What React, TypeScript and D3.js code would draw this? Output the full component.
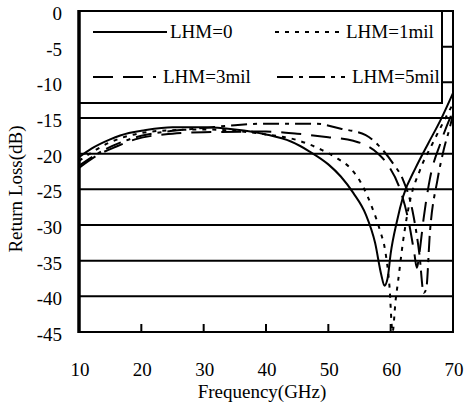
import React, { useEffect, useRef } from 'react'
import * as d3 from 'd3'

const W = 466, H = 402
const margin = { top: 11, right: 13, bottom: 70, left: 79 }

const freqTicks = [10, 20, 30, 40, 50, 60, 70]
const lossTicks = [0, -5, -10, -15, -20, -25, -30, -35, -40, -45]

// [GHz, dB]
const lhm0 = [[10, -20.5], [12, -19.3], [15, -18], [18, -17.1], [20, -16.8], [25, -16.3], [30, -16.3], [35, -16.6], [40, -17.3], [44, -18.3], [47, -19.7], [50, -21.5], [52, -23.2], [54, -25.5], [56, -28.5], [57.5, -32.5], [58.5, -37], [59, -38.5], [59.5, -37.5], [60, -34], [61, -29.5], [62, -26], [64, -22], [66, -18.6], [68, -15.3], [70, -11.5]]
const lhm1 = [[10, -21], [15, -18.4], [20, -17.1], [25, -16.7], [30, -16.6], [35, -16.8], [40, -17.3], [45, -18.1], [49, -19.5], [51.5, -20.7], [53.5, -22], [55.5, -24.5], [57, -27.5], [58.3, -30.8], [59.1, -33.5], [59.8, -38.5], [60.3, -45], [60.8, -40.5], [61.2, -37.8], [62, -32.2], [63, -27], [64.7, -22.3], [66.7, -18.6], [68.5, -15.5], [70, -13]]
const lhm3 = [[10, -22], [13, -20.2], [16, -19], [19, -18], [25, -17.2], [30, -17], [40, -16.9], [45, -17.2], [50, -17.7], [54, -18.2], [56, -18.8], [58, -20], [59.5, -21.5], [61.5, -25], [63, -30], [63.8, -34], [64.2, -36], [64.6, -34], [65.3, -29], [66.3, -23.5], [68, -18.5], [70, -14]]
const lhm5 = [[10, -21.7], [14, -19.5], [20, -17.5], [25, -16.8], [30, -16.4], [35, -16], [40, -15.8], [48, -15.8], [52, -16.5], [56, -17.4], [58, -18.8], [60.4, -21.4], [62, -23.7], [63.5, -28], [64.6, -34], [65.3, -39.5], [65.7, -39], [66.3, -31], [67.5, -23.7], [68.5, -19.5], [69.5, -16.3], [70, -14.5]]

const series = [
  { name: 'LHM=0', data: lhm0, dash: null },
  { name: 'LHM=1mil', data: lhm1, dash: '4,6' },
  { name: 'LHM=3mil', data: lhm3, dash: '20,10' },
  { name: 'LHM=5mil', data: lhm5, dash: '16,6,4,6' },
]

export default function App() {
  const ref = useRef(null)

  useEffect(() => {
    document.body.style.margin = '0'
    const svg = d3.select(ref.current)
    svg.selectAll('*').remove()

    const x = d3.scaleLinear().domain([10, 70]).range([margin.left, W - margin.right])
    const y = d3.scaleLinear().domain([-45, 0]).range([H - margin.bottom, margin.top])
    const font = 'Liberation Serif, DejaVu Serif, serif'

    svg.append('rect').attr('width', W).attr('height', H).attr('fill', '#fff')

    // grid lines
    svg.append('g')
      .selectAll('line')
      .data(lossTicks.filter(d => d !== 0 && d !== -45))
      .join('line')
      .attr('x1', x(10)).attr('x2', x(70))
      .attr('y1', d => y(d)).attr('y2', d => y(d))
      .attr('stroke', '#000').attr('stroke-width', 2)

    svg.append('defs').append('clipPath').attr('id', 'plot')
      .append('rect')
      .attr('x', x(10)).attr('y', y(0))
      .attr('width', x(70) - x(10)).attr('height', y(-45) - y(0))

    const line = d3.line()
      .x(d => x(d[0]))
      .y(d => y(d[1]))
      .curve(d3.curveMonotoneX)

    svg.append('g').attr('clip-path', 'url(#plot)')
      .selectAll('path')
      .data(series)
      .join('path')
      .attr('d', d => line(d.data))
      .attr('fill', 'none')
      .attr('stroke', '#000')
      .attr('stroke-width', 2)
      .attr('stroke-dasharray', d => d.dash)

    // legend box
    const lx0 = x(10), lx1 = 442, ly0 = y(0), ly1 = 103
    svg.append('rect')
      .attr('x', lx0).attr('y', ly0)
      .attr('width', lx1 - lx0).attr('height', ly1 - ly0)
      .attr('fill', '#fff').attr('stroke', '#000').attr('stroke-width', 2)

    const legendPos = [
      { x1: 93, x2: 167, tx: 170, y: 32 },
      { x1: 275, x2: 344, tx: 346, y: 32 },
      { x1: 93, x2: 156, tx: 163, y: 77 },
      { x1: 277, x2: 345, tx: 352, y: 77 },
    ]
    series.forEach((s, i) => {
      const p = legendPos[i]
      svg.append('line')
        .attr('x1', p.x1).attr('x2', p.x2).attr('y1', p.y).attr('y2', p.y)
        .attr('stroke', '#000').attr('stroke-width', 2)
        .attr('stroke-dasharray', s.dash)
      svg.append('text')
        .attr('x', p.tx).attr('y', p.y + 6)
        .style('font-family', font).style('font-size', '19px')
        .text(s.name)
    })

    // frame
    svg.append('rect')
      .attr('x', x(10)).attr('y', y(0))
      .attr('width', x(70) - x(10)).attr('height', y(-45) - y(0))
      .attr('fill', 'none').attr('stroke', '#000').attr('stroke-width', 2)
    svg.append('line')
      .attr('x1', x(10)).attr('x2', x(10)).attr('y1', y(0) - 1).attr('y2', y(-45) + 1)
      .attr('stroke', '#000').attr('stroke-width', 3.5)

    // bottom ticks (inward)
    svg.append('g')
      .selectAll('line')
      .data(freqTicks.slice(1, -1))
      .join('line')
      .attr('x1', d => x(d)).attr('x2', d => x(d))
      .attr('y1', y(-45)).attr('y2', y(-45) - 8)
      .attr('stroke', '#000').attr('stroke-width', 2)

    // tick labels
    svg.append('g')
      .selectAll('text')
      .data(lossTicks)
      .join('text')
      .attr('x', 62)
      .attr('y', d => y(d) + 9)
      .attr('text-anchor', 'end')
      .style('font-family', font).style('font-size', '19px')
      .text(d => d)

    svg.append('g')
      .selectAll('text')
      .data(freqTicks)
      .join('text')
      .attr('x', d => x(d) + 1)
      .attr('y', 376)
      .attr('text-anchor', 'middle')
      .style('font-family', font).style('font-size', '19px')
      .text(d => d)

    svg.append('text')
      .attr('x', 262).attr('y', 398)
      .attr('text-anchor', 'middle')
      .style('font-family', font).style('font-size', '19px')
      .text('Frequency(GHz)')

    svg.append('text')
      .attr('transform', 'translate(22,189) rotate(-90)')
      .attr('text-anchor', 'middle')
      .style('font-family', font).style('font-size', '19px')
      .text('Return Loss(dB)')
  }, [])

  return <svg ref={ref} width={W} height={H} style={{ display: 'block' }} />
}
